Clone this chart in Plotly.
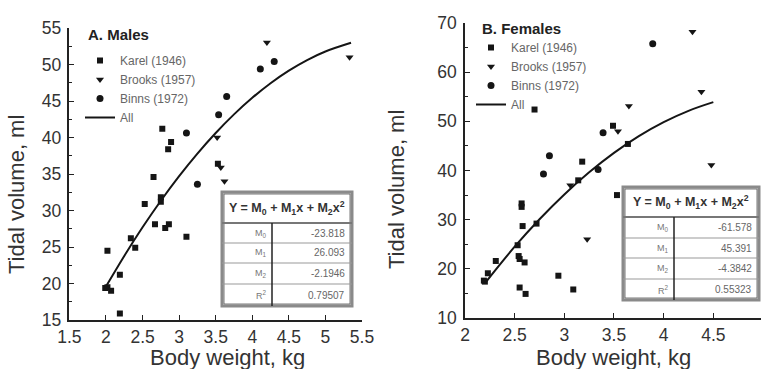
import plotly.graph_objects as go

W, H = 761, 369

# ---------------- data ----------------
# Panel A: Males
a_karel_x = [2.77, 2.89, 2.85, 2.65, 3.53, 2.53, 2.75, 2.75, 2.67, 2.81, 2.86, 3.10, 2.34, 2.40, 2.02, 2.19, 1.99, 2.02, 2.07, 2.19]
a_karel_y = [41.2, 39.4, 38.4, 34.6, 36.4, 30.9, 31.8, 31.2, 28.1, 27.6, 28.1, 26.4, 26.2, 24.9, 24.5, 21.2, 19.4, 19.5, 19.0, 15.9]
a_brooks_x = [3.52, 3.57, 3.62, 4.20, 5.33]
a_brooks_y = [40.0, 35.9, 34.0, 53.0, 51.0]
a_binns_x = [3.10, 3.25, 3.54, 3.65, 4.11, 4.30]
a_binns_y = [40.6, 33.6, 43.1, 45.6, 49.4, 50.4]
a_fit_x = [2.0, 2.25, 2.5, 2.75, 3.0, 3.25, 3.5, 3.75, 4.0, 4.25, 4.5, 4.75, 5.0, 5.35]
a_fit_y = [19.59, 23.78, 27.70, 31.34, 34.71, 37.80, 40.62, 43.17, 45.44, 47.44, 49.16, 50.61, 51.78, 52.97]
a_table_labels = ["M<sub>0</sub>", "M<sub>1</sub>", "M<sub>2</sub>", "R<sup>2</sup>"]
a_table_values = ["-23.818", "26.093", "-2.1946", "0.79507"]

# Panel B: Females
b_karel_x = [2.70, 3.49, 3.64, 3.18, 3.14, 3.53, 2.57, 2.57, 2.58, 2.72, 2.53, 2.54, 2.55, 2.60, 2.31, 2.23, 2.19, 2.20, 2.55, 2.61, 2.94, 3.09]
b_karel_y = [52.4, 49.1, 45.4, 41.8, 38.0, 35.0, 33.3, 32.6, 28.7, 29.2, 24.8, 22.6, 22.0, 21.3, 21.6, 19.1, 17.6, 17.4, 16.2, 14.9, 18.6, 15.8]
b_brooks_x = [4.29, 4.38, 4.48, 3.65, 3.54, 3.06, 3.23]
b_brooks_y = [68.2, 56.0, 41.1, 53.1, 48.0, 37.0, 26.0]
b_binns_x = [3.89, 3.39, 2.85, 2.79, 3.34]
b_binns_y = [65.8, 47.7, 43.0, 39.3, 40.2]
b_fit_x = [2.2, 2.5, 2.75, 3.0, 3.25, 3.5, 3.75, 4.0, 4.25, 4.5]
b_fit_y = [17.06, 24.50, 30.09, 35.14, 39.63, 43.58, 46.99, 49.84, 52.14, 53.90]
b_table_labels = ["M<sub>0</sub>", "M<sub>1</sub>", "M<sub>2</sub>", "R<sup>2</sup>"]
b_table_values = ["-61.578", "45.391", "-4.3842", "0.55323"]

series_names = ["Karel (1946)", "Brooks (1957)", "Binns (1972)", "All"]
x_tick_a = [1.5, 2, 2.5, 3, 3.5, 4, 4.5, 5, 5.5]
y_tick_a = [15, 20, 25, 30, 35, 40, 45, 50, 55]
x_tick_b = [2, 2.5, 3, 3.5, 4, 4.5]
y_tick_b = [10, 20, 30, 40, 50, 60, 70]

# ---------------- helpers ----------------
def px(x):
    return x / W

def py(y):
    return 1 - y / H

FONT = "Liberation Sans, Arial, sans-serif"
MK = "#151515"

fig = go.Figure()

def add_panel(kx, ky, bx, by, nx, ny, fx, fy, xa, ya, leg):
    fig.add_trace(go.Scatter(x=kx, y=ky, mode="markers", name=series_names[0],
                             marker=dict(symbol="square", size=6, color=MK),
                             xaxis=xa, yaxis=ya, legend=leg))
    fig.add_trace(go.Scatter(x=bx, y=by, mode="markers", name=series_names[1],
                             marker=dict(symbol="triangle-down", size=7, color=MK),
                             xaxis=xa, yaxis=ya, legend=leg))
    fig.add_trace(go.Scatter(x=nx, y=ny, mode="markers", name=series_names[2],
                             marker=dict(symbol="circle", size=7, color=MK),
                             xaxis=xa, yaxis=ya, legend=leg))
    fig.add_trace(go.Scatter(x=fx, y=fy, mode="lines", name=series_names[3],
                             line=dict(color=MK, width=2, shape="spline"),
                             xaxis=xa, yaxis=ya, legend=leg))

add_panel(a_karel_x, a_karel_y, a_brooks_x, a_brooks_y, a_binns_x, a_binns_y,
          a_fit_x, a_fit_y, "x", "y", "legend")
add_panel(b_karel_x, b_karel_y, b_brooks_x, b_brooks_y, b_binns_x, b_binns_y,
          b_fit_x, b_fit_y, "x2", "y2", "legend2")

axis_common = dict(showline=True, linecolor="#222", linewidth=1.5, ticks="inside",
                   ticklen=5, tickwidth=1.2, tickcolor="#222", showgrid=False,
                   zeroline=False, mirror=False, automargin=False,
                   tickfont=dict(family=FONT, size=17.5, color="#333"))

fig.update_layout(
    width=W, height=H,
    margin=dict(l=0, r=0, t=0, b=0, pad=0, autoexpand=False),
    paper_bgcolor="white", plot_bgcolor="white",
    font=dict(family=FONT),
    xaxis=dict(domain=[px(69.4), px(362)], range=[1.5, 5.5], tickvals=x_tick_a,
               ticktext=[f"{v:g}" for v in x_tick_a], anchor="y", **axis_common),
    yaxis=dict(domain=[py(320), py(28)], range=[15, 55], tickvals=y_tick_a,
               anchor="x", ticklabelstandoff=3,
               minor=dict(ticks="inside", ticklen=3, dtick=2.5, tickcolor="#222"),
               **axis_common),
    xaxis2=dict(domain=[px(465), 1.0], range=[2, 4.98], tickvals=x_tick_b,
                ticktext=[f"{v:g}" for v in x_tick_b], anchor="y2", **axis_common),
    yaxis2=dict(domain=[py(318), py(23)], range=[10, 70], tickvals=y_tick_b,
                anchor="x2", ticklabelstandoff=3,
                minor=dict(ticks="inside", ticklen=3, dtick=5, tickcolor="#222"),
                **axis_common),
    legend=dict(x=px(80), y=py(46), xanchor="left", yanchor="top",
                bgcolor="rgba(0,0,0,0)", font=dict(family=FONT, size=12, color="#666"),
                tracegroupgap=0),
    legend2=dict(x=px(471), y=py(33), xanchor="left", yanchor="top",
                 bgcolor="rgba(0,0,0,0)", font=dict(family=FONT, size=12, color="#666"),
                 tracegroupgap=0),
)

annotations = []
# Panel titles
annotations.append(dict(x=px(86), y=py(35), xref="paper", yref="paper", xanchor="left",
                        yanchor="middle", showarrow=False, text="<b>A. Males</b>",
                        font=dict(family=FONT, size=15, color="#222")))
annotations.append(dict(x=px(480), y=py(29), xref="paper", yref="paper", xanchor="left",
                        yanchor="middle", showarrow=False, text="<b>B. Females</b>",
                        font=dict(family=FONT, size=15, color="#222")))
# Axis titles
for cx, cy in [(227, 357), (613, 357)]:
    annotations.append(dict(x=px(cx), y=py(cy), xref="paper", yref="paper", showarrow=False,
                            text="Body weight, kg", xanchor="center", yanchor="middle",
                            font=dict(family=FONT, size=22, color="#333")))
for cx, cy in [(16, 195), (396, 190)]:
    annotations.append(dict(x=px(cx), y=py(cy), xref="paper", yref="paper", showarrow=False,
                            text="Tidal volume, ml", textangle=-90, xanchor="center",
                            yanchor="middle", font=dict(family=FONT, size=22, color="#333")))

shapes = []

def add_table(left, right, top, header_bottom, row_lines, bottom, divider, labels, values):
    shapes.append(dict(type="rect", xref="paper", yref="paper", x0=px(left), x1=px(right),
                       y0=py(bottom), y1=py(top), line=dict(color="#8a8a8a", width=3),
                       fillcolor="white", layer="above"))
    shapes.append(dict(type="rect", xref="paper", yref="paper", x0=px(left + 2), x1=px(right - 2),
                       y0=py(bottom - 2), y1=py(top + 2), line=dict(color="#555", width=0.8),
                       layer="above"))
    shapes.append(dict(type="line", xref="paper", yref="paper", x0=px(left), x1=px(right),
                       y0=py(header_bottom), y1=py(header_bottom),
                       line=dict(color="#777", width=2), layer="above"))
    for r in row_lines:
        shapes.append(dict(type="line", xref="paper", yref="paper", x0=px(left), x1=px(right),
                           y0=py(r), y1=py(r), line=dict(color="#999", width=1), layer="above"))
    shapes.append(dict(type="line", xref="paper", yref="paper", x0=px(divider), x1=px(divider),
                       y0=py(bottom), y1=py(header_bottom), line=dict(color="#222", width=1.5),
                       layer="above"))
    annotations.append(dict(x=px((left + right) / 2), y=py((top + header_bottom) / 2),
                            xref="paper", yref="paper", showarrow=False,
                            xanchor="center", yanchor="middle",
                            text="<b>Y = M<sub>0</sub> + M<sub>1</sub>x + M<sub>2</sub>x<sup>2</sup></b>",
                            font=dict(family=FONT, size=12.5, color="#333")))
    edges = [header_bottom] + list(row_lines) + [bottom]
    for i in range(4):
        cy = (edges[i] + edges[i + 1]) / 2
        annotations.append(dict(x=px(divider - 3), y=py(cy), xref="paper", yref="paper",
                                xanchor="right", yanchor="middle", showarrow=False,
                                text=labels[i], font=dict(family=FONT, size=9, color="#777")))
        annotations.append(dict(x=px(right - 5), y=py(cy), xref="paper", yref="paper",
                                xanchor="right", yanchor="middle", showarrow=False,
                                text=values[i], font=dict(family=FONT, size=10, color="#666")))

add_table(222, 352, 192, 223, [243, 263, 284], 306, 272, a_table_labels, a_table_values)
add_table(623, 759, 187, 217, [238, 258, 279], 300, 674, b_table_labels, b_table_values)

fig.update_layout(annotations=annotations, shapes=shapes)

fig.write_html("out.html", config={"displayModeBar": False},
               post_script="document.body.style.margin='0';document.body.style.overflow='hidden';")
